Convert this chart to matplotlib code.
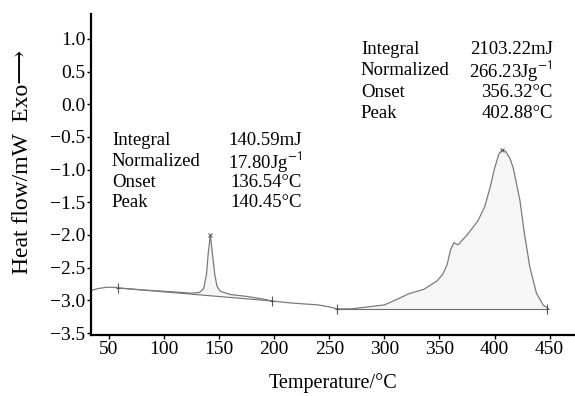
import matplotlib
matplotlib.use("Agg")
import matplotlib.pyplot as plt
import numpy as np

plt.rcParams['font.family'] = ['Liberation Serif', 'DejaVu Serif']
plt.rcParams['mathtext.fontset'] = 'stix'

# DSC curve
temp = [33.7, 40, 48, 55, 58, 80, 108, 125, 132, 136, 138.5, 140, 142,
        144, 146, 148, 151, 160, 175, 190, 198, 215, 240, 250, 257, 270,
        285, 300, 312, 322, 336, 348, 353, 357, 360, 363, 367, 376, 385,
        391, 396, 400, 404, 407, 410, 414, 417, 423, 427, 432, 438, 444, 449]
heat_flow = [-2.85, -2.82, -2.80, -2.80, -2.81, -2.84, -2.87, -2.89, -2.88,
             -2.82, -2.60, -2.30, -2.00, -2.30, -2.60, -2.78, -2.86, -2.91,
             -2.94, -2.98, -3.01, -3.04, -3.07, -3.10, -3.13, -3.13, -3.10,
             -3.07, -2.98, -2.90, -2.83, -2.70, -2.60, -2.45, -2.23, -2.12,
             -2.15, -1.98, -1.78, -1.57, -1.27, -0.98, -0.76, -0.70, -0.72,
             -0.83, -0.98, -1.47, -1.97, -2.49, -2.89, -3.07, -3.13]

# integration limits and peaks
limit_t = [58, 198, 257, 448]
limit_y = [-2.81, -3.01, -3.13, -3.13]
peak_t = [142, 407]
peak_y = [-2.00, -0.70]

labels = ["Integral", "Normalized", "Onset", "Peak"]
values1 = ["140.59mJ", "17.80Jg$^{\\mathsf{-1}}$", "136.54°C", "140.45°C"]
values2 = ["2103.22mJ", "266.23Jg$^{\\mathsf{-1}}$", "356.32°C", "402.88°C"]

fig = plt.figure(figsize=(5.75, 3.96), dpi=100)
ax = fig.add_axes([91/575, 61/396, 484/575, 321/396])

t = np.array(temp)
h = np.array(heat_flow)

# baselines under the two peaks
for i in (0, 2):
    bx = [limit_t[i], limit_t[i+1]]
    by = [limit_y[i], limit_y[i+1]]
    ax.plot(bx, by, color='#6e6e6e', lw=0.8)
    m = (t >= bx[0]) & (t <= bx[1])
    ax.fill_between(t[m], h[m], np.interp(t[m], bx, by),
                    color='#f6f6f6', lw=0)

ax.plot(t, h, color='#7a7a7a', lw=0.9)
ax.plot(limit_t, limit_y, ls='none', marker='|', ms=7, color='#555555', mew=0.8)
ax.plot(limit_t, limit_y, ls='none', marker='_', ms=3, color='#555555', mew=0.8)
ax.plot(peak_t, peak_y, ls='none', marker='x', ms=3.5, color='#555555', mew=0.7)

# result boxes
rows1 = [-0.55, -0.87, -1.19, -1.51]
rows2 = [0.83, 0.51, 0.18, -0.14]
for lab, v, y in zip(labels, values1, rows1):
    ax.text(52.7, y, lab, fontsize=13.5, va='center')
    ax.text(225, y, v, fontsize=13.5, va='center', ha='right')
for lab, v, y in zip(labels, values2, rows2):
    ax.text(278.7, y, lab, fontsize=13.5, va='center')
    ax.text(452.9, y, v, fontsize=13.5, va='center', ha='right')

ax.set_xlim(33.7, 473)
ax.set_ylim(-3.53, 1.38)
ax.set_xticks(range(50, 451, 50))
ax.set_yticks(np.arange(-3.5, 1.01, 0.5))
ax.yaxis.set_major_formatter(matplotlib.ticker.FuncFormatter(
    lambda v, p: f"{v:.1f}".replace('-', '\u2212')))

for s in ['top', 'right']:
    ax.spines[s].set_visible(False)
for s in ['left', 'bottom']:
    ax.spines[s].set_linewidth(1.6)
ax.tick_params(direction='out', length=3, width=1, labelsize=14, pad=1)

ax.set_xlabel("Temperature/°C", fontsize=14.5)
ax.xaxis.set_label_coords(0.5, -0.12)
ax.xaxis.label.set_va('top')
ax.set_ylabel("Heat flow/mW  Exo\u27f6", fontsize=17)
ax.yaxis.set_label_coords(-0.12, 0.54)

fig.savefig("out.png", dpi=100)
